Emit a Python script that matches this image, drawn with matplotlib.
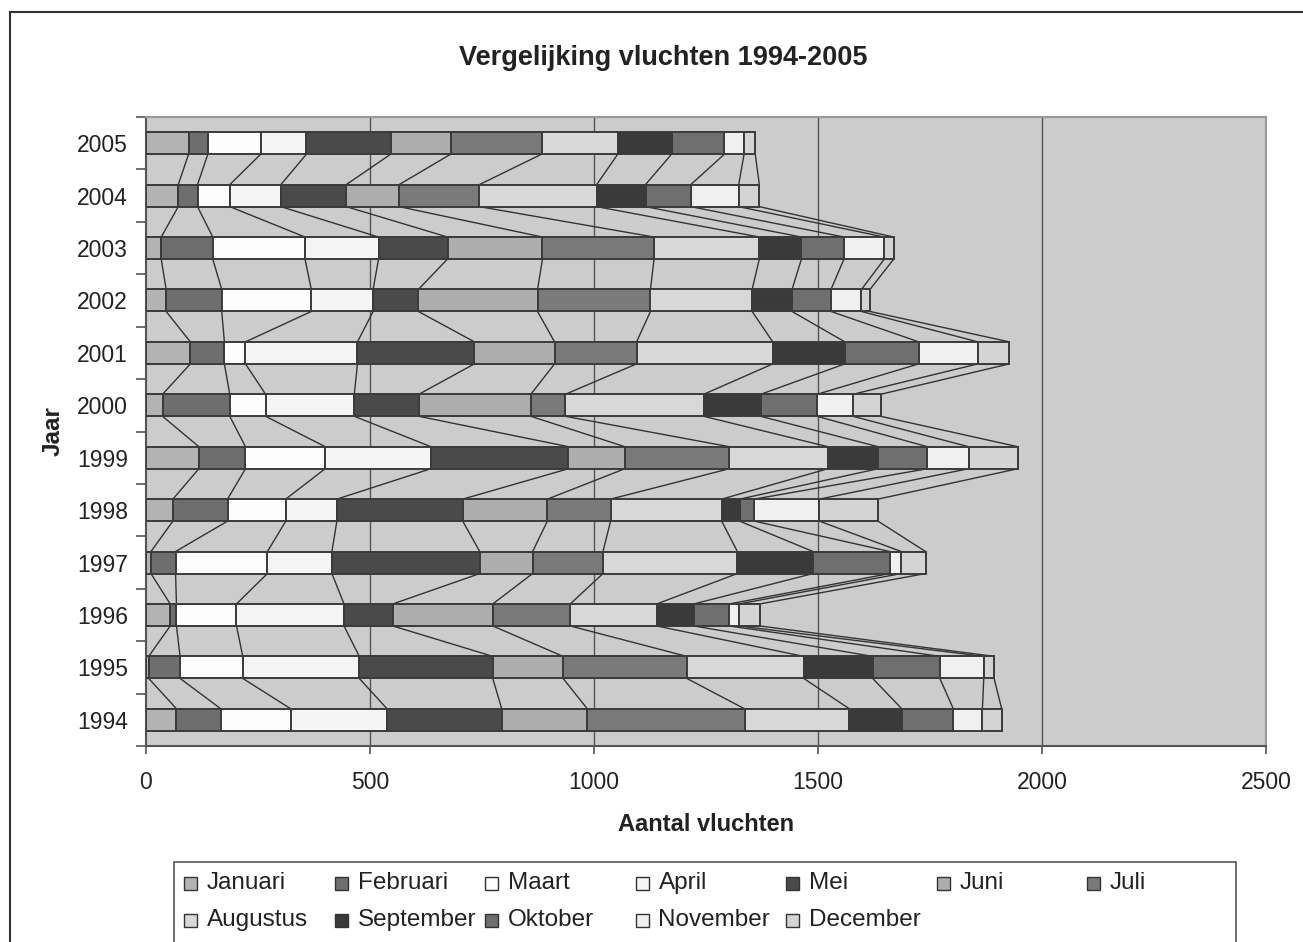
import numpy as np
import matplotlib
matplotlib.use("Agg")
import matplotlib.pyplot as plt
from matplotlib.patches import Rectangle

plt.rcParams['font.family'] = ['Liberation Sans', 'DejaVu Sans']

# flights per month, years 1994..2005
jaren = ['1994', '1995', '1996', '1997', '1998', '1999',
         '2000', '2001', '2002', '2003', '2004', '2005']
januari = [68, 6, 54, 11, 60, 118, 37, 99, 45, 34, 72, 95]
februari = [99, 70, 14, 55, 122, 104, 150, 76, 124, 115, 43, 43]
maart = [156, 140, 134, 205, 130, 178, 80, 47, 200, 206, 72, 118]
april = [215, 260, 240, 144, 114, 236, 198, 250, 138, 164, 114, 102]
mei = [256, 298, 109, 330, 281, 307, 144, 261, 101, 154, 146, 188]
juni = [191, 157, 223, 118, 189, 126, 250, 179, 266, 212, 118, 134]
juli = [351, 276, 173, 157, 141, 233, 77, 183, 252, 249, 179, 203]
augustus = [234, 261, 193, 300, 248, 220, 309, 304, 227, 235, 262, 170]
september = [117, 154, 83, 169, 40, 112, 127, 161, 89, 94, 109, 120]
oktober = [115, 150, 79, 171, 33, 110, 126, 165, 87, 95, 101, 118]
november = [65, 98, 22, 26, 145, 92, 80, 132, 68, 90, 107, 44]
december = [43, 23, 46, 54, 131, 110, 62, 70, 19, 21, 46, 25]

maanden = ['Januari', 'Februari', 'Maart', 'April', 'Mei', 'Juni', 'Juli',
           'Augustus', 'September', 'Oktober', 'November', 'December']
reeksen = [januari, februari, maart, april, mei, juni, juli,
           augustus, september, oktober, november, december]
kleuren = ['#b3b3b3', '#6e6e6e', '#fcfcfc', '#f5f5f5', '#4a4a4a', '#adadad',
           '#7a7a7a', '#d8d8d8', '#3a3a3a', '#6f6f6f', '#f0f0f0', '#d4d4d4']

W, H = 1303, 942
fig = plt.figure(figsize=(W / 100, H / 100), dpi=100)
ax = fig.add_axes([146 / W, 1 - 746 / H, 1120 / W, 629 / H])
ax.set_facecolor('#cccccc')

y = np.arange(len(jaren))
h = 0.42
links = np.zeros(len(jaren))
for naam, vals, kleur in zip(maanden, reeksen, kleuren):
    vals = np.array(vals, dtype=float)
    ax.barh(y, vals, left=links, height=h, color=kleur,
            edgecolor='#3a3a3a', linewidth=1.4, zorder=3, label=naam)
    links = links + vals
    # series lines between neighbouring bars
    for i in range(len(jaren) - 1):
        ax.plot([links[i], links[i + 1]], [y[i] + h / 2, y[i + 1] - h / 2],
                color='#333333', lw=1.0, zorder=2)

ax.set_xlim(0, 2500)
ax.set_ylim(-0.5, len(jaren) - 0.5)
ax.set_xticks(np.arange(0, 2501, 500))
ax.set_yticks(y)
ax.set_yticklabels(jaren)
ax.set_yticks(np.arange(-0.5, len(jaren), 1), minor=True)
ax.tick_params(axis='y', which='major', length=0, pad=13, labelsize=16.5,
               labelcolor='#222222')
ax.tick_params(axis='y', which='minor', length=7, width=1.2, color='#555555',
               direction='out')
ax.tick_params(axis='x', length=6, width=1.2, color='#555555', pad=12,
               labelsize=16.5, labelcolor='#222222')
for xv in [500, 1000, 1500, 2000]:
    ax.axvline(xv, color='#555555', lw=1.0, zorder=1)

ax.spines['left'].set_color('#555555')
ax.spines['bottom'].set_color('#555555')
ax.spines['top'].set_color('#999999')
ax.spines['right'].set_color('#999999')
for s in ax.spines.values():
    s.set_linewidth(1.5)

ax.set_xlabel('Aantal vluchten', fontsize=17, fontweight='bold', labelpad=14,
              color='#222222')
ax.set_ylabel('Jaar', fontsize=17.5, fontweight='bold', labelpad=9,
              color='#222222')
fig.text(663 / W, 1 - 58 / H, 'Vergelijking vluchten 1994-2005', ha='center',
         va='center', fontsize=19.5, fontweight='bold', color='#222222')

# outer chart border
fig.patches.append(Rectangle((10 / W, -0.05), 1.2, 1 - 12 / H + 0.05,
                             transform=fig.transFigure, fill=False,
                             edgecolor='#333333', lw=1.5))

# legend box, drawn by hand in Excel style (equal column widths)
fig.patches.append(Rectangle((174 / W, -0.05), (1236 - 174) / W,
                             1 - 862 / H + 0.05, transform=fig.transFigure,
                             facecolor='white', edgecolor='#555555', lw=1.2))
for k, (naam, kleur) in enumerate(zip(maanden, kleuren)):
    rij, kol = divmod(k, 7)
    x0 = 184 + kol * 150.5
    yc = 883 + rij * 37
    fig.patches.append(Rectangle((x0 / W, 1 - (yc + 6.5) / H), 13 / W, 13 / H,
                                 transform=fig.transFigure, facecolor=kleur,
                                 edgecolor='#333333', lw=1.0))
    fig.text((x0 + 23) / W, 1 - yc / H, naam, ha='left', va='center',
             fontsize=17.5, color='#222222')

fig.savefig('out.png', dpi=100, facecolor='white')
